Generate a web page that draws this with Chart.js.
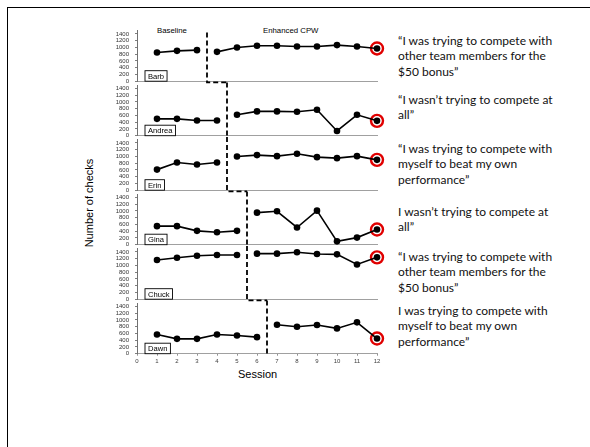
<!DOCTYPE html>
<html>
<head>
<meta charset="utf-8">
<script src="https://cdn.jsdelivr.net/npm/chart.js@4.4.1/dist/chart.umd.min.js"></script>
<style>
  html, body { margin: 0; padding: 0; background: #fff; }
  #wrap { position: relative; width: 590px; height: 447px; overflow: hidden; }
  #wrap canvas { position: absolute; left: 0; top: 0; }
  .frame { position: absolute; left: 7px; top: 7px; width: 600px; height: 460px;
           border-left: 1.7px solid #000; border-top: 1.7px solid #000; }
  .lbl { position: absolute; font-family: "Liberation Sans", Arial, sans-serif; color: #000; white-space: nowrap; }
  .quote { position: absolute; left: 398px; font-family: Lato, sans-serif; font-size: 12px;
           line-height: 15.3px; color: #111; white-space: nowrap; }
</style>
</head>
<body>
<div id="wrap">
  <div class="frame"></div>
  <div class="lbl" style="left:157px; top:25.5px; font-size:7.8px;">Baseline</div>
  <div class="lbl" style="left:263px; top:25.5px; font-size:7.8px;">Enhanced CPW</div>
  <div class="lbl" style="left:89px; top:203px; font-size:11px; transform: translate(-50%, -50%) rotate(-90deg);">Number of checks</div>
  <div class="lbl" style="left:238px; top:368px; font-size:11px;">Session</div>
  <div class="quote" style="top:33px;">“I was trying to compete with<br>other team members for the<br>$50 bonus”</div>
  <div class="quote" style="top:92px;">“I wasn’t trying to compete at<br>all”</div>
  <div class="quote" style="top:141px;">“I was trying to compete with<br>myself to beat my own<br>performance”</div>
  <div class="quote" style="top:204px;">I wasn’t trying to compete at<br>all”</div>
  <div class="quote" style="top:249px;">“I was trying to compete with<br>other team members for the<br>$50 bonus”</div>
  <div class="quote" style="top:303px;">I was trying to compete with<br>myself to beat my own<br>performance”</div>
</div>
<script>
const sessions = [1, 2, 3, 4, 5, 6, 7, 8, 9, 10, 11, 12];
const names = ['Barb', 'Andrea', 'Erin', 'Gina', 'Chuck', 'Dawn'];
const baselineSessions = [3, 4, 4, 5, 5, 6];

const barb   = [850, 900, 920, 870, 1000, 1050, 1050, 1030, 1030, 1070, 1030, 970];
const andrea = [500, 500, 450, 450, 620, 720, 720, 710, 770, 140, 620, 440];
const erin   = [610, 820, 760, 820, 1000, 1040, 1010, 1080, 980, 950, 1010, 900];
const gina   = [550, 550, 410, 370, 410, 950, 990, 510, 1010, 100, 210, 450];
const chuck  = [1160, 1230, 1290, 1310, 1310, 1350, 1350, 1390, 1340, 1330, 1030, 1240];
const dawn   = [570, 440, 440, 570, 540, 490, 860, 800, 850, 750, 930, 450];
const checks = [barb, andrea, erin, gina, chuck, dawn];

const yTicks = [0, 200, 400, 600, 800, 1000, 1200, 1400];
const yMax = 1500;

// panel geometry
const W = 590, H = 447;
const firstTop = 30.6, panelH = 50.6, pitch = 54.5;
const plotLeft = 137, plotRight = 377;
const FONT = '"Liberation Sans", Arial, sans-serif';

const phasePlugin = {
  id: 'phase',
  afterDraw(chart, args, opts) {
    const { ctx, chartArea } = chart;
    const xs = chart.scales.x;
    const i = opts.index;
    const px = xs.getPixelForValue(baselineSessions[i] + 0.5);
    const last = i === names.length - 1;
    const y0 = i === 0 ? chartArea.top + 2 : chartArea.top - (pitch - panelH) + 1.2;
    const y1 = last ? chartArea.bottom + 1 : chartArea.bottom + 1.2;
    ctx.save();
    ctx.strokeStyle = '#000';
    ctx.lineWidth = 1.8;
    ctx.setLineDash([5, 3]);
    ctx.beginPath();
    ctx.moveTo(px, y0);
    ctx.lineTo(px, y1);
    if (!last) {
      ctx.lineTo(xs.getPixelForValue(baselineSessions[i + 1] + 0.5), y1);
    }
    ctx.stroke();
    ctx.setLineDash([]);

    // name box
    ctx.font = '7.6px ' + FONT;
    const tw = ctx.measureText(names[i]).width;
    const bx = chartArea.left + 8, bh = 10.5, by = chartArea.bottom - bh;
    ctx.fillStyle = '#fff';
    ctx.fillRect(bx, by, tw + 6, bh);
    ctx.strokeStyle = '#000';
    ctx.lineWidth = 0.9;
    ctx.strokeRect(bx, by, tw + 6, bh);
    ctx.fillStyle = '#000';
    ctx.textBaseline = 'middle';
    ctx.fillText(names[i], bx + 3, by + bh / 2 + 0.5);
    ctx.restore();
  }
};

function makePanel(i) {
  const canvas = document.createElement('canvas');
  canvas.width = W; canvas.height = H;
  canvas.style.width = W + 'px'; canvas.style.height = H + 'px';
  document.getElementById('wrap').appendChild(canvas);

  const last = i === names.length - 1;
  const vals = checks[i];
  const n = baselineSessions[i];
  const pts = sessions.map((s, k) => ({ x: s, y: vals[k] }));
  const top = firstTop + i * pitch;
  const bottom = top + panelH;
  const xH = last ? 10 : 0;

  const lineStyle = {
    borderColor: '#000', borderWidth: 1.6,
    pointRadius: 3.3, pointBackgroundColor: '#000', pointBorderWidth: 0,
    pointHoverRadius: 3.3, clip: false, tension: 0
  };

  new Chart(canvas, {
    type: 'line',
    data: {
      datasets: [
        Object.assign({ data: pts.slice(0, n) }, lineStyle),
        Object.assign({ data: pts.slice(n) }, lineStyle),
        {
          data: pts.slice(-1), showLine: false, clip: false,
          pointRadius: 6, pointHoverRadius: 6,
          pointBackgroundColor: 'rgba(0,0,0,0)',
          pointBorderColor: '#e00000', pointBorderWidth: 2.4
        }
      ]
    },
    options: {
      responsive: false,
      animation: false,
      events: [],
      layout: {
        padding: { left: plotLeft - 30, right: W - plotRight, top: top, bottom: H - bottom - xH }
      },
      plugins: { legend: { display: false }, tooltip: { enabled: false }, phase: { index: i } },
      scales: {
        x: {
          type: 'linear', min: 0, max: 12,
          afterFit: s => { s.height = xH; },
          ticks: { display: last, stepSize: 1, padding: 2, autoSkip: false, color: '#404040',
                   font: { size: 6, family: FONT } },
          grid: { display: last, drawOnChartArea: false, drawTicks: last, tickLength: 2, color: '#909090' },
          border: { display: true, color: '#a0a0a0', width: 1 }
        },
        y: {
          type: 'linear', min: 0, max: yMax,
          afterFit: s => { s.width = 30; },
          afterBuildTicks: s => { s.ticks = yTicks.map(v => ({ value: v })); },
          ticks: { padding: 6, autoSkip: false, color: '#333', callback: v => String(v),
                   font: { size: 6, family: FONT, lineHeight: 1 } },
          grid: { display: true, drawOnChartArea: false, drawTicks: true, tickLength: 2, color: '#808080' },
          border: { display: true, color: '#707070', width: 1 }
        }
      }
    },
    plugins: [phasePlugin]
  });
}

names.forEach((_, i) => makePanel(i));
</script>
</body>
</html>
